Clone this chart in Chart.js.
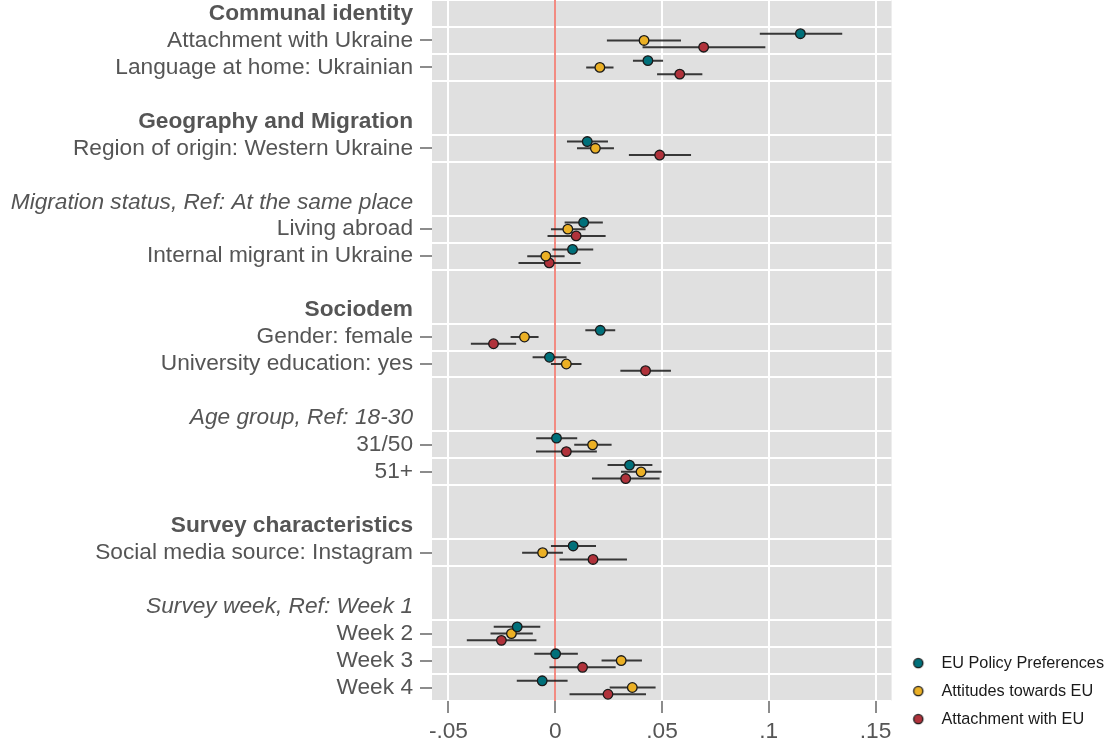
<!DOCTYPE html>
<html>
<head>
<meta charset="utf-8">
<script src="https://cdn.jsdelivr.net/npm/chart.js@4/dist/chart.umd.min.js"></script>
<style>
    html, body { margin: 0; padding: 0; background: #fff; }
    #wrap { width: 1108px; height: 745px; position: relative; }
</style>
</head>
<body>
<div id="wrap"><canvas id="coefPlot"></canvas></div>
<script>
// rows of the plot, top to bottom
const rowLabels = [
    'Communal identity', 'Attachment with Ukraine', 'Language at home: Ukrainian', '',
    'Geography and Migration', 'Region of origin: Western Ukraine', '',
    'Migration status, Ref: At the same place', 'Living abroad', 'Internal migrant in Ukraine', '',
    'Sociodem', 'Gender: female', 'University education: yes', '',
    'Age group, Ref: 18-30', '31/50', '51+', '',
    'Survey characteristics', 'Social media source: Instagram', '',
    'Survey week, Ref: Week 1', 'Week 2', 'Week 3', 'Week 4'
];
const rowKinds = [
    'head', 'coef', 'coef', 'gap',
    'head', 'coef', 'gap',
    'ref', 'coef', 'coef', 'gap',
    'head', 'coef', 'coef', 'gap',
    'ref', 'coef', 'coef', 'gap',
    'head', 'coef', 'gap',
    'ref', 'coef', 'coef', 'coef'
];

const seriesNames = ['EU Policy Preferences', 'Attitudes towards EU', 'Attachment with EU'];
const seriesColors = ['#00707a', '#ebb025', '#b0323b'];

// estimates and 95% CI, one value per 'coef' row
const policyEst = [0.1148, 0.0434, 0.0150, 0.0133, 0.0081, 0.0211, -0.0027, 0.0006, 0.0348, 0.0084, -0.0178, 0.0002, -0.0061];
const policyLo  = [0.0958, 0.0364, 0.0055, 0.0044, -0.0013, 0.0141, -0.0106, -0.0089, 0.0245, -0.0020, -0.0288, -0.0098, -0.0180];
const policyHi  = [0.1344, 0.0505, 0.0247, 0.0223, 0.0178, 0.0281, 0.0053, 0.0103, 0.0455, 0.0191, -0.0070, 0.0106, 0.0058];

const attitudeEst = [0.0416, 0.0209, 0.0188, 0.0059, -0.0044, -0.0144, 0.0052, 0.0175, 0.0402, -0.0059, -0.0205, 0.0309, 0.0361];
const attitudeLo  = [0.0242, 0.0145, 0.0102, -0.0020, -0.0131, -0.0209, -0.0020, 0.0089, 0.0308, -0.0155, -0.0303, 0.0217, 0.0255];
const attitudeHi  = [0.0589, 0.0273, 0.0275, 0.0142, 0.0044, -0.0078, 0.0123, 0.0264, 0.0498, 0.0036, -0.0105, 0.0406, 0.0470];

const attachEst = [0.0695, 0.0583, 0.0489, 0.0098, -0.0028, -0.0289, 0.0423, 0.0052, 0.0330, 0.0177, -0.0252, 0.0128, 0.0247];
const attachLo  = [0.0409, 0.0477, 0.0345, -0.0036, -0.0172, -0.0395, 0.0305, -0.0090, 0.0172, 0.0020, -0.0414, -0.0027, 0.0067];
const attachHi  = [0.0984, 0.0689, 0.0636, 0.0236, 0.0119, -0.0183, 0.0542, 0.0195, 0.0489, 0.0336, -0.0088, 0.0283, 0.0425];

const xTicks = [-0.05, 0, 0.05, 0.1, 0.15];
const xTickLabels = ['-.05', '0', '.05', '.1', '.15'];

const FONT = "'Liberation Sans', Arial, Helvetica, sans-serif";
const coefRows = rowKinds.map((k, i) => k === 'coef' ? i : -1).filter(i => i >= 0);
const rowShift = [-0.25, 0, 0.25];

function dots(est, s) {
    return est.map((v, i) => ({ x: v, y: coefRows[i] + rowShift[s] }));
}

// one line piece per CI, broken by null points
function bars(lo, hi, s) {
    const pts = [];
    lo.forEach((v, i) => {
        const y = coefRows[i] + rowShift[s];
        pts.push({ x: v, y: y }, { x: hi[i], y: y }, { x: null, y: null });
    });
    return pts;
}

function legendDot(color) {
    const c = document.createElement('canvas');
    c.width = 14; c.height = 14;
    const g = c.getContext('2d');
    g.beginPath();
    g.arc(7, 7, 4.6, 0, Math.PI * 2);
    g.fillStyle = color;
    g.fill();
    g.lineWidth = 1.3;
    g.strokeStyle = '#1a1a1a';
    g.stroke();
    return c;
}

const est = [policyEst, attitudeEst, attachEst];
const los = [policyLo, attitudeLo, attachLo];
const his = [policyHi, attitudeHi, attachHi];

const datasets = [];
seriesNames.forEach((name, s) => {
    datasets.push({
        label: name,
        data: dots(est[s], s),
        backgroundColor: seriesColors[s],
        borderColor: '#1a1a1a',
        pointRadius: 4.8,
        pointHoverRadius: 4.8,
        pointBorderWidth: 1.3,
        order: 0
    });
});
seriesNames.forEach((name, s) => {
    datasets.push({
        label: name + ' CI',
        data: bars(los[s], his[s], s),
        showLine: true,
        spanGaps: false,
        borderColor: 'rgba(25,25,25,0.85)',
        borderWidth: 2,
        pointRadius: 0,
        pointHoverRadius: 0,
        order: 1
    });
});

const plotBackground = {
    id: 'plotBackground',
    beforeDraw(chart) {
        const { ctx, chartArea: a } = chart;
        ctx.save();
        ctx.fillStyle = '#e0e0e0';
        ctx.fillRect(a.left, a.top, a.right - a.left, a.bottom - a.top);
        ctx.restore();
    }
};

const ctx = document.getElementById('coefPlot').getContext('2d');
new Chart(ctx, {
    type: 'scatter',
    data: { datasets: datasets },
    plugins: [plotBackground],
    options: {
        responsive: true,
        maintainAspectRatio: false,
        animation: false,
        layout: { autoPadding: false, padding: { left: 0, top: 0, right: -6, bottom: 6 } },
        scales: {
            x: {
                type: 'linear',
                position: 'bottom',
                min: -0.0577,
                max: 0.1575,
                afterBuildTicks: (scale) => { scale.ticks = xTicks.map(v => ({ value: v })); },
                afterFit: (scale) => { scale.height = 38; scale.paddingLeft = 0; scale.paddingRight = 0; },
                border: { display: false },
                grid: {
                    z: -1,
                    color: (c) => (c.tick && c.tick.value === 0) ? '#f28b82' : '#ffffff',
                    lineWidth: 2,
                    tickColor: '#666666',
                    tickWidth: 1.5,
                    tickLength: 12
                },
                ticks: {
                    padding: 5,
                    maxRotation: 0,
                    autoSkip: false,
                    color: '#555555',
                    font: { family: FONT, size: 22.7 },
                    callback: (v, i) => xTickLabels[i]
                }
            },
            y: {
                type: 'linear',
                reverse: true,
                min: -0.5,
                max: rowLabels.length - 0.5,
                afterBuildTicks: (scale) => {
                    const t = [];
                    for (let v = -0.5; v <= rowLabels.length - 0.5; v += 0.5) t.push({ value: v });
                    scale.ticks = t;
                },
                afterFit: (scale) => { scale.width = 432; scale.paddingTop = 0; scale.paddingBottom = 0; },
                border: { display: false },
                grid: {
                    z: -2,
                    lineWidth: 2,
                    color: (c) => {
                        const v = c.tick.value;
                        if (Number.isInteger(v)) return 'rgba(0,0,0,0)';
                        const above = Math.floor(v);
                        if (above < 0) return '#ffffff';
                        return rowKinds[above] === 'gap' ? 'rgba(0,0,0,0)' : '#ffffff';
                    },
                    tickColor: (c) => {
                        const v = c.tick.value;
                        return (Number.isInteger(v) && rowKinds[v] === 'coef') ? '#666666' : 'rgba(0,0,0,0)';
                    },
                    tickWidth: 1.5,
                    tickLength: 12
                },
                ticks: {
                    autoSkip: false,
                    padding: 7,
                    color: '#555555',
                    callback: (v) => Number.isInteger(v) ? rowLabels[v] : '',
                    font: (c) => {
                        const v = c.tick ? c.tick.value : 0;
                        const kind = Number.isInteger(v) ? rowKinds[v] : 'gap';
                        return {
                            family: FONT,
                            size: 22.7,
                            weight: kind === 'head' ? 'bold' : 'normal',
                            style: kind === 'ref' ? 'italic' : 'normal'
                        };
                    }
                }
            }
        },
        plugins: {
            tooltip: { enabled: false },
            legend: {
                position: 'right',
                align: 'end',
                labels: {
                    usePointStyle: true,
                    pointStyleWidth: 30,
                    padding: 11.75,
                    color: '#1a1a1a',
                    font: { family: FONT, size: 16.25 },
                    filter: (item) => item.datasetIndex < 3,
                    generateLabels: (chart) => {
                        const items = Chart.defaults.plugins.legend.labels.generateLabels(chart);
                        return items.map(it => {
                            if (it.datasetIndex < 3) it.pointStyle = legendDot(seriesColors[it.datasetIndex]);
                            return it;
                        });
                    }
                }
            }
        }
    }
});
</script>
</body>
</html>
